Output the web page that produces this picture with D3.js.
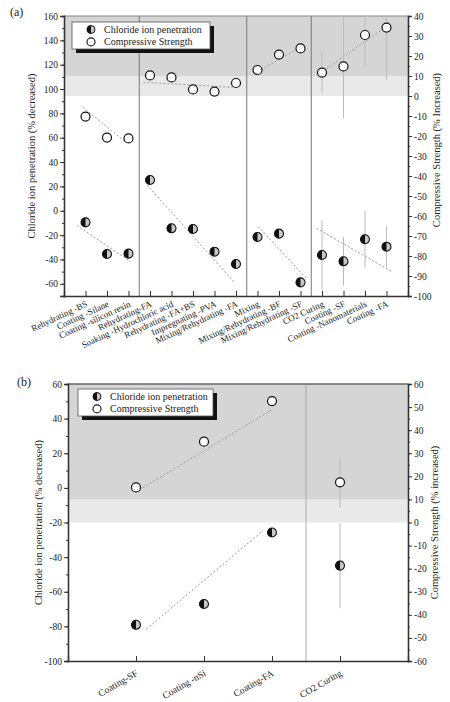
<!DOCTYPE html>
<meta charset="utf-8">
<style>
  body { margin: 0; background: #fff; }
  svg text { font-family: "Liberation Serif", "Times New Roman", serif !important; fill: #222; }
</style>
<script src="https://d3js.org/d3.v7.min.js"></script>
<div id="chart"></div>
<script>
  // ---- panel (a) data ----
  var catsA = ["Rehydrating -BS", "Coating -Silane", "Coating -silicon resin", "Rehydrating-FA",
    "Soaking -Hydrochloric acid", "Rehydrating -FA+BS", "Impregnating -PVA", "Mixing/Rehydrating -FA",
    "Mixing", "Mixing/Rehydrating -BF", "Mixing/Rehydrating -SF", "CO2 Curing", "Coating -SF",
    "Coating -Nanomaterials", "Coating -FA"];
  var chlorideA = [-9.5, -35.5, -35.2, 25.3, -14.4, -15, -33.6, -43.7, -21.5, -18.8, -58.8, -36.3, -41.5, -23.4, -29.5];
  var strengthA = [-10.3, -20.8, -21.2, 10.3, 9.3, 3.3, 2.2, 6.5, 13, 20.7, 23.8, 11.7, 14.8, 30.5, 34.2];
  var chlorideErrA = [0, 0, 0, 0, 0, 0, 0, 0, 0, 0, 0, 28.5, 20, 23.5, 17];
  var strengthErrA = [0, 0, 0, 0, 0, 0, 0, 0, 0, 0, 0, 10.5, 26, 16, 26];
  var groupBreaksA = [2.5, 7.5, 10.5];
  // trend lines: [index0, value0, index1, value1]
  var chlorideTrendA = [[-0.4, -12.2, 2.1, -41.8], [2.86, 21.2, 6.95, -59.3], [8.04, -13.1, 10.3, -56], [10.75, -14.4, 14.24, -50]];
  var strengthTrendA = [[-0.13, -5.6, 1.84, -22.8], [2.69, 6.85, 6.84, 4.35], [8.0, 12.2, 10.06, 24.7], [10.9, 11.35, 14.0, 34.7]];

  // ---- panel (b) data ----
  var catsB = ["Coating-SF", "Coating -nSi", "Coating-FA", "CO2 Curing"];
  var chlorideB = [-79.1, -67.1, -25.8, -44.9];
  var strengthB = [15.2, 35, 52.6, 17.4];
  var chlorideErrB = [0, 0, 0, 24.6];
  var strengthErrB = [0, 0, 0, 11];
  var groupBreaksB = [2.5];
  var chlorideTrendB = [[0.15, -81.6, 1.87, -24.6]];
  var strengthTrendB = [[0.05, 14.1, 1.99, 48.7]];

  var legendItems = ["Chloride ion penetration", "Compressive Strength"];

  var svg = d3.select("#chart").append("svg").attr("width", 450).attr("height", 702);

  function drawPanel(p) {
    var g = svg.append("g");
    var x = d3.scalePoint().domain(d3.range(p.cats.length)).range([p.left, p.right]).padding(1);
    var step = x.step();
    var xi = function(i) { return x(0) + i * step; };
    var yL = d3.scaleLinear().domain(p.leftDomain).range([p.bottom, p.top]);
    var yR = d3.scaleLinear().domain(p.rightDomain).range([p.bottom, p.top]);

    // shaded bands (defined on the right axis)
    g.append("rect").attr("x", p.left).attr("width", p.right - p.left)
      .attr("y", yR(p.bandTop)).attr("height", yR(0) - yR(p.bandTop)).attr("fill", "#e9e9e9");
    g.append("rect").attr("x", p.left).attr("width", p.right - p.left)
      .attr("y", p.top).attr("height", yR(p.bandTop) - p.top).attr("fill", "#d5d5d5");

    // group separators
    g.selectAll(".sep").data(p.breaks).enter().append("line")
      .attr("x1", function(d) { return xi(d); }).attr("x2", function(d) { return xi(d); })
      .attr("y1", p.top).attr("y2", p.bottom)
      .attr("stroke", p.sepColor).attr("stroke-width", 1);

    // top frame
    g.append("line").attr("x1", p.left).attr("x2", p.right).attr("y1", p.top).attr("y2", p.top)
      .attr("stroke", p.topColor).attr("stroke-width", p.topWidth);

    // trend lines
    function trends(data, y) {
      g.selectAll(null).data(data).enter().append("line")
        .attr("x1", function(d) { return xi(d[0]); }).attr("y1", function(d) { return y(d[1]); })
        .attr("x2", function(d) { return xi(d[2]); }).attr("y2", function(d) { return y(d[3]); })
        .attr("stroke", "#999").attr("stroke-width", 1).attr("stroke-dasharray", "2,2");
    }
    trends(p.clTrend, yL);
    trends(p.csTrend, yR);

    // error bars
    function errs(vals, err, y) {
      var d = vals.map(function(v, i) { return { i: i, v: v, e: err[i] }; }).filter(function(d) { return d.e > 0; });
      g.selectAll(null).data(d).enter().append("line")
        .attr("x1", function(d) { return x(d.i); }).attr("x2", function(d) { return x(d.i); })
        .attr("y1", function(d) { return Math.max(p.top, y(d.v + d.e)); })
        .attr("y2", function(d) { return Math.min(p.bottom, y(d.v - d.e)); })
        .attr("stroke", "#bbb").attr("stroke-width", 1);
    }
    errs(p.cl, p.clErr, yL);
    errs(p.cs, p.csErr, yR);

    // axes
    var fmt = function(d) { return String(d); };
    var leftAx = g.append("g").attr("transform", "translate(" + p.left + ",0)")
      .call(d3.axisLeft(yL).tickValues(d3.range(p.leftDomain[0] + p.leftFirst, p.leftDomain[1] + 1, 20)).tickSize(4).tickFormat(fmt));
    g.append("g").attr("transform", "translate(" + p.left + ",0)")
      .call(d3.axisLeft(yL).tickValues(d3.range(p.leftDomain[0], p.leftDomain[1] + 1, 10)).tickSize(2).tickFormat(""));
    var rightAx = g.append("g").attr("transform", "translate(" + p.right + ",0)")
      .call(d3.axisRight(yR).tickValues(d3.range(p.rightDomain[0], p.rightDomain[1] + 1, 10)).tickSize(4).tickFormat(fmt));
    g.append("g").attr("transform", "translate(" + p.right + ",0)")
      .call(d3.axisRight(yR).tickValues(d3.range(p.rightDomain[0], p.rightDomain[1] + 1, 5)).tickSize(2).tickFormat(""));
    var bottomAx = g.append("g").attr("transform", "translate(0," + p.bottom + ")")
      .call(d3.axisBottom(x).tickSize(-5).tickFormat(function(i) { return p.cats[i]; }));
    g.selectAll(".domain").attr("stroke", "#333").attr("stroke-width", 1.3);
    g.selectAll(".tick line").attr("stroke", "#333");
    leftAx.selectAll("text").attr("font-size", 9.5).attr("x", -6);
    rightAx.selectAll("text").attr("font-size", 9.5).attr("x", 6);
    bottomAx.selectAll("text").attr("font-size", p.catFont).attr("text-anchor", "end")
      .attr("y", 0).attr("dy", 0)
      .attr("transform", "translate(2," + p.catDy + ") rotate(" + p.catAngle + ")");
    g.selectAll(".tick text").attr("fill", "#222");

    // markers
    var r = 4.5;
    g.selectAll(null).data(p.cs).enter().append("circle")
      .attr("cx", function(d, i) { return x(i); }).attr("cy", function(d) { return yR(d); })
      .attr("r", r).attr("fill", "#fff").attr("stroke", "#111").attr("stroke-width", 1.2);
    var cl = g.selectAll(null).data(p.cl).enter().append("g")
      .attr("transform", function(d, i) { return "translate(" + x(i) + "," + yL(d) + ")"; });
    cl.append("circle").attr("r", r).attr("fill", "#c8c8c8").attr("stroke", "#111").attr("stroke-width", 1.1);
    cl.append("path").attr("d", "M0," + (-r) + "A" + r + "," + r + " 0 0 0 0," + r + "Z").attr("fill", "#111");

    // legend
    var lg = g.append("g").attr("transform", "translate(" + p.legX + "," + p.legY + ")");
    lg.append("rect").attr("x", 4).attr("y", 4).attr("width", p.legW).attr("height", 27).attr("fill", "#111");
    lg.append("rect").attr("width", p.legW).attr("height", 27).attr("fill", "#fff").attr("stroke", "#555").attr("stroke-width", 0.8);
    var rows = lg.selectAll(null).data(legendItems).enter().append("g")
      .attr("transform", function(d, i) { return "translate(19," + (7.5 + i * 12.4) + ")"; });
    rows.append("text").attr("x", 13).attr("y", 3.5).attr("font-size", 10).text(function(d) { return d; });
    var s0 = d3.select(rows.nodes()[0]);
    s0.append("circle").attr("r", 4).attr("fill", "#c8c8c8").attr("stroke", "#111");
    s0.append("path").attr("d", "M0,-4A4,4 0 0 0 0,4Z").attr("fill", "#111");
    d3.select(rows.nodes()[1]).append("circle").attr("r", 4).attr("fill", "#fff").attr("stroke", "#111").attr("stroke-width", 1.1);

    // titles
    var cy = (p.top + p.bottom) / 2;
    g.append("text").attr("transform", "translate(" + p.leftTitleX + "," + cy + ") rotate(-90)")
      .attr("text-anchor", "middle").attr("font-size", 10.5).text("Chloride ion penetration (% decreased)");
    g.append("text").attr("transform", "translate(" + p.rightTitleX + "," + (cy + p.rightTitleDy) + ") rotate(-90)")
      .attr("text-anchor", "middle").attr("font-size", 10.5).text(p.rightTitle);
    g.append("text").attr("x", p.tagX).attr("y", p.tagY).attr("font-size", 12).text(p.tag);
  }

  drawPanel({
    cats: catsA, cl: chlorideA, cs: strengthA, clErr: chlorideErrA, csErr: strengthErrA,
    breaks: groupBreaksA, clTrend: chlorideTrendA, csTrend: strengthTrendA,
    left: 64, right: 408, top: 16, bottom: 296,
    leftDomain: [-70, 160], leftFirst: 10, rightDomain: [-100, 40], bandTop: 10,
    sepColor: "#777", topColor: "#888", topWidth: 1,
    catFont: 9, catAngle: -25, catDy: 10,
    legX: 72, legY: 22, legW: 138,
    leftTitleX: 35, rightTitleX: 440, rightTitleDy: -6,
    rightTitle: "Compressive Strength (% Increased)", tag: "(a)", tagX: 10, tagY: 16
  });

  drawPanel({
    cats: catsB, cl: chlorideB, cs: strengthB, clErr: chlorideErrB, csErr: strengthErrB,
    breaks: groupBreaksB, clTrend: chlorideTrendB, csTrend: strengthTrendB,
    left: 68, right: 408, top: 384, bottom: 661,
    leftDomain: [-100, 60], leftFirst: 0, rightDomain: [-60, 60], bandTop: 10,
    sepColor: "#aaa", topColor: "#666", topWidth: 1.6,
    catFont: 9.5, catAngle: -30, catDy: 14,
    legX: 78, legY: 389, legW: 135,
    leftTitleX: 42, rightTitleX: 438, rightTitleDy: 0,
    rightTitle: "Compressive Strength (% increased)", tag: "(b)", tagX: 17, tagY: 386
  });
</script>
